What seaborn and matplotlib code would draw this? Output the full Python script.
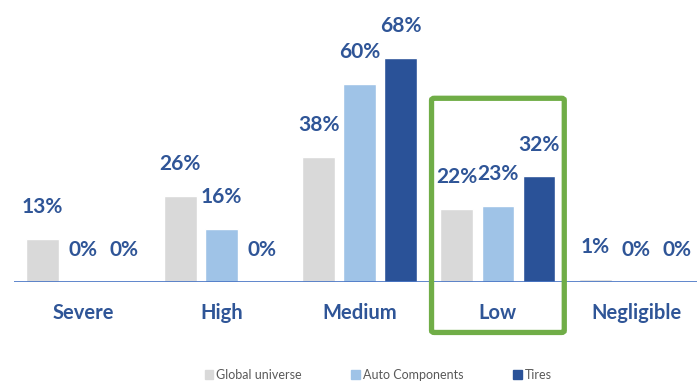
import matplotlib
matplotlib.use("Agg")
import matplotlib.pyplot as plt
import seaborn as sns
import pandas as pd
from matplotlib.patches import FancyBboxPatch

categories = ["Severe", "High", "Medium", "Low", "Negligible"]
series = ["Global universe", "Auto Components", "Tires"]
global_universe = [13, 26, 38, 22, 1]
auto_components = [0, 16, 60, 23, 0]
tires = [0, 0, 68, 32, 0]

colors = ["#D9D9D9", "#9FC3E7", "#2A5298"]
text_blue = "#2F5597"

rows = []
for s, vals in zip(series, [global_universe, auto_components, tires]):
    for c, v in zip(categories, vals):
        rows.append({"category": c, "series": s, "value": v})
df = pd.DataFrame(rows)

sns.set_theme(style="white")
plt.rcParams["font.family"] = ["Lato", "DejaVu Sans"]

fig = plt.figure(figsize=(6.97, 3.82), dpi=100)
ax = fig.add_axes([14 / 697, 100 / 382, 683 / 697, 282 / 382])

sns.barplot(data=df, x="category", y="value", hue="series", order=categories,
            hue_order=series, palette=colors, width=0.89, gap=0.2,
            saturation=1, ax=ax, legend=False)

ax.set_xlim(-0.5, 4.44)
ax.set_ylim(0, 85.5)
for s in ax.spines.values():
    s.set_visible(False)
ax.axhline(0, color="#4472C4", lw=1.2, zorder=5)
ax.set_yticks([])
ax.set_xlabel("")
ax.set_ylabel("")
ax.tick_params(axis="x", length=0, pad=15)
for lab in ax.get_xticklabels():
    lab.set_fontweight("bold")
    lab.set_fontsize(14.5)
    lab.set_color(text_blue)

for container in ax.containers:
    for bar in container:
        h = bar.get_height()
        ax.annotate(f"{h:.0f}%", (bar.get_x() + bar.get_width() / 2, h),
                    xytext=(0, 23), textcoords="offset points",
                    ha="center", va="center", fontsize=15,
                    fontweight="bold", color=text_blue, annotation_clip=False)

# highlight box around "Low"
idx = categories.index("Low")
box = FancyBboxPatch((idx - 0.48, -15.3), 0.96, 71.0,
                     boxstyle="round,pad=0,rounding_size=0.02",
                     transform=ax.transData, fill=False,
                     edgecolor="#70AD47", lw=3.8, clip_on=False, zorder=6,
                     mutation_aspect=30)
ax.add_patch(box)

handles = [plt.Rectangle((0, 0), 1, 1, color=c) for c in colors]
fig.legend(handles, series, loc="center", bbox_to_anchor=(378 / 697, 7 / 382),
           ncol=3, frameon=False, fontsize=9, handlelength=0.7,
           handleheight=0.7, handletextpad=0.2, columnspacing=4.0,
           labelcolor="#595959")

fig.savefig("out.png", dpi=100)
